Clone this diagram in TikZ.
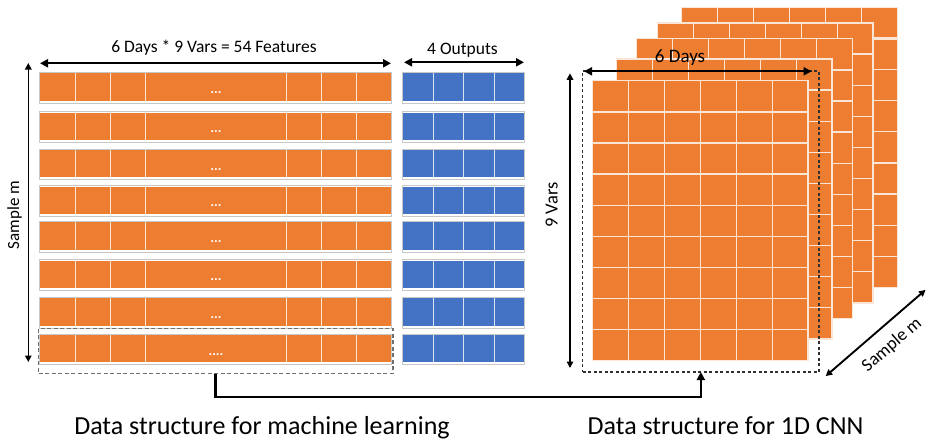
\documentclass[tikz,border=0pt]{standalone}
\usepackage{fontspec}
\setmainfont{Carlito}
\usetikzlibrary{arrows.meta}

\definecolor{orgfill}{HTML}{ED7D31}
\definecolor{bluefill}{HTML}{4472C4}
\definecolor{orgline}{HTML}{FBE5D6}
\definecolor{blueline}{HTML}{DAE3F3}
\definecolor{framegray}{HTML}{C8C8C8}
\definecolor{dashgray}{HTML}{707070}
\definecolor{dashdark}{HTML}{303030}

\tikzset{
  rowframe/.style={draw=framegray, line width=1pt, fill=white},
  orgsep/.style={draw=orgline, line width=1pt},
  bluesep/.style={draw=blueline, line width=1pt},
  gridsep/.style={draw=orgline, line width=1.2pt},
  dotmark/.style={text=white, font=\fontsize{14}{16}\selectfont\bfseries, inner sep=0, anchor=base},
  lbl/.style={font=\fontsize{17.5}{20}\selectfont, inner sep=0, anchor=base},
  biglbl/.style={font=\fontsize{26}{30}\selectfont, inner sep=0, anchor=base},
  tip/.tip={Triangle[length=8pt,width=8pt]},
  smalltip/.tip={Triangle[length=6.5pt,width=6.5pt]},
  dimthick/.style={line width=2.3pt, tip-tip},
  dimthin/.style={line width=1.4pt, smalltip-smalltip},
  mlbox/.style={draw=dashgray, line width=1.3pt, dash pattern=on 4pt off 2.5pt,
    minimum width=354.4pt, minimum height=45pt, inner sep=0, outer sep=0},
  cnnbox/.style={draw=dashdark, line width=1.1pt, dash pattern=on 3pt off 2.5pt,
    minimum width=236.3pt, minimum height=301pt, inner sep=0, outer sep=0},
  link/.style={line width=2.5pt, -tip},
}

\begin{document}
\begin{tikzpicture}[x=1pt,y=-1pt]
\useasboundingbox (0,0) rectangle (927,439);

% ---- flat samples: 54 features + 4 outputs per row ----
\foreach \t/\dd [count=\i] in {73.3/{...},112.5/{...},150/{...},186.7/{...},
                              222.3/{...},260.5/{...},298.3/{...},335/{....}} {
  \draw[rowframe] (39.5,\t-0.8) rectangle (391.8,\t+29.8);
  \fill[orgfill] (40,\t) rectangle (391,\t+27.3);
  \foreach \x in {75.5,110.5,145.5,286,321,356}
    \draw[orgsep] (\x,\t) -- (\x,\t+27.3);
  \node[dotmark] (dots\i) at (216,\t+20) {\dd};
  \draw[rowframe] (402.5,\t-0.8) rectangle (524.8,\t+29.8);
  \fill[bluefill] (403.3,\t) rectangle (524,\t+27.3);
  \foreach \x in {433.3,463.6,494}
    \draw[bluesep] (\x,\t) -- (\x,\t+27.3);
}

% ---- stacked 6x9 matrices, back to front ----
\foreach \lx/\ly in {681.8/7.4, 657.5/22.9, 636.7/38.7, 616.5/58.9, 592.5/80.7} {
  \fill[orgfill] (\lx,\ly) rectangle (\lx+215.5,\ly+280);
  \foreach \k in {1,...,5}
    \draw[gridsep] (\lx+\k*35.92,\ly) -- (\lx+\k*35.92,\ly+280);
  \foreach \j in {2,...,8}
    \draw[gridsep] (\lx,\ly+\j*31.11) -- (\lx+215.5,\ly+\j*31.11);
  \draw[gridsep, line width=2.6pt] (\lx,\ly+31.11) -- (\lx+215.5,\ly+31.11);
  \draw[gridsep] (\lx,\ly) rectangle (\lx+215.5,\ly+280);
}

% ---- selection boxes and the link between them ----
\node[mlbox] (mlsel) at (215.7,351) {};
\node[cnnbox] (cnnsel) at (700.85,221.5) {};
\draw[link] (mlsel.south) -- ++(0,23.5) -| (cnnsel.south);

% ---- dimension arrows ----
\coordinate (featL) at (40,63.3);
\coordinate (featR) at (391,63.3);
\coordinate (outL) at (404,62.3);
\coordinate (outR) at (524,62.3);
\coordinate (smpT) at (28.3,63);
\coordinate (smpB) at (28.3,362);
\coordinate (varT) at (570,73.3);
\coordinate (varB) at (570,368);
\coordinate (dayL) at (584,71.3);
\coordinate (dayR) at (811.6,71.3);
\coordinate (diagA) at (825.7,376.1);
\coordinate (diagB) at (925.5,289.9);

\draw[dimthick] (featL) -- (featR);
\draw[dimthick] (outL) -- (outR);
\draw[dimthin] (smpT) -- (smpB);
\draw[dimthin] (varT) -- (varB);
\draw[dimthick] (dayL) -- (dayR);
\draw[line width=1.9pt, smalltip-smalltip] (diagA) -- (diagB);

% ---- labels ----
\node[lbl] (featlbl) at (214,52) {6 Days * 9 Vars = 54 Features};
\node[lbl] (outlbl) at (462.5,54) {4 Outputs};
\node[lbl, font=\fontsize{19}{22}\selectfont] (daylbl) at (680,62) {6 Days};
\node[lbl, anchor=center, rotate=90, font=\fontsize{17}{20}\selectfont] (smplbl) at (14.5,215) {Sample m};
\node[lbl, anchor=center, rotate=90, font=\fontsize{18.5}{21}\selectfont] (varlbl) at (551.7,205) {9 Vars};
\node[lbl, anchor=center, rotate=40.7, font=\fontsize{18}{21}\selectfont] (smpdiag) at (892,345) {Sample m};
\node[biglbl] (mltitle) at (262,434) {Data structure for machine learning};
\node[biglbl] (cnntitle) at (725.5,434) {Data structure for 1D CNN};
\end{tikzpicture}
\end{document}
